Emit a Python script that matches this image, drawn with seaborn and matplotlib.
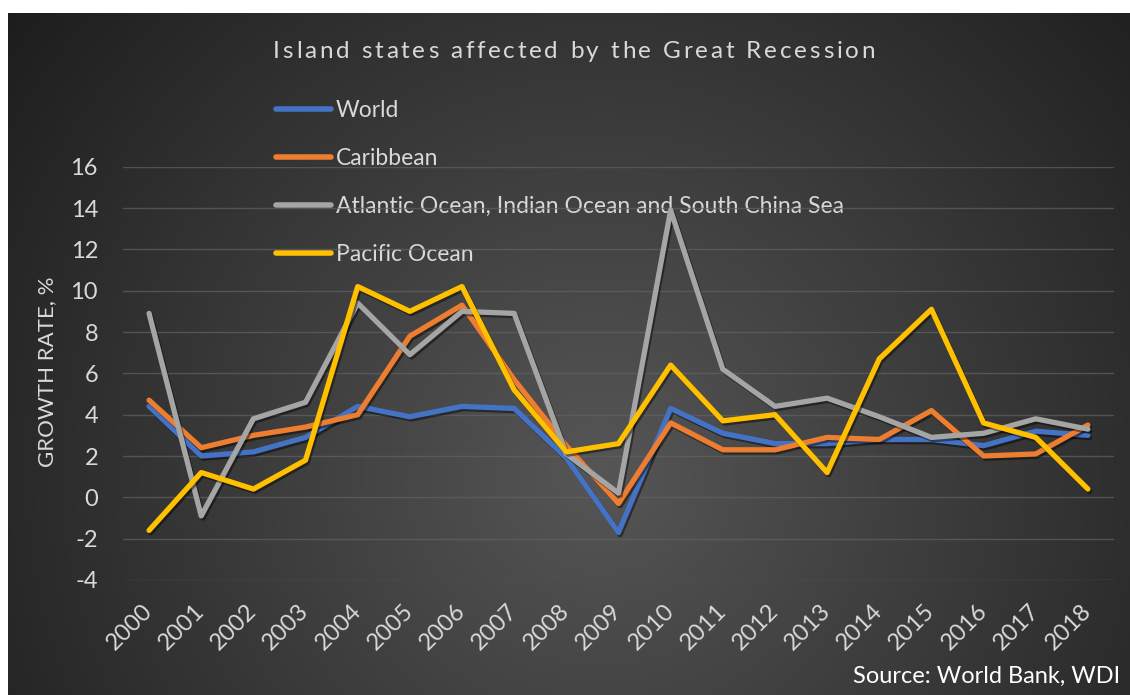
import numpy as np
import pandas as pd
import matplotlib
matplotlib.use("Agg")
import matplotlib.pyplot as plt
import matplotlib.patheffects as pe
from matplotlib.lines import Line2D
import seaborn as sns

# ---- data -------------------------------------------------------------
years = list(range(2000, 2019))
world = [4.4, 2.0, 2.2, 2.9, 4.4, 3.9, 4.4, 4.3, 1.9, -1.7, 4.3, 3.1, 2.6, 2.6, 2.8, 2.8, 2.5, 3.2, 3.0]
caribbean = [4.7, 2.4, 3.0, 3.4, 4.0, 7.8, 9.3, 5.7, 2.5, -0.3, 3.6, 2.3, 2.3, 2.9, 2.8, 4.2, 2.0, 2.1, 3.5]
atlantic = [8.9, -0.9, 3.8, 4.6, 9.4, 6.9, 9.0, 8.9, 2.1, 0.2, 13.9, 6.2, 4.4, 4.8, 3.9, 2.9, 3.1, 3.8, 3.3]
pacific = [-1.6, 1.2, 0.4, 1.8, 10.2, 9.0, 10.2, 5.2, 2.2, 2.6, 6.4, 3.7, 4.0, 1.2, 6.7, 9.1, 3.6, 2.9, 0.4]

series_names = ["World", "Caribbean",
                "Atlantic Ocean, Indian Ocean and South China Sea", "Pacific Ocean"]
series_colors = ["#4472C4", "#ED7D31", "#A5A5A5", "#FFC000"]
y_ticks = [-4, -2, 0, 2, 4, 6, 8, 10, 12, 14, 16]

title_text = "Island states affected by the Great Recession"
y_label = "GROWTH RATE, %"
source_text = "Source: World Bank, WDI"

df = pd.DataFrame({
    "year": years * 4,
    "growth": world + caribbean + atlantic + pacific,
    "region": sum([[n] * len(years) for n in series_names], []),
})

# ---- style ------------------------------------------------------------
sns.set_theme(style="white")
FONT = ["Lato", "DejaVu Sans"]
plt.rcParams["font.family"] = FONT
TXT = "#D9D9D9"

W, H, DPI = 1130, 695, 100
fig = plt.figure(figsize=(W / DPI, H / DPI), dpi=DPI, facecolor="white")

# dark radial-gradient panel
bg = fig.add_axes([8 / W, 0, 1 - 8 / W, 1 - 13 / H], zorder=0)
bw, bh = W - 8, H - 13
yy, xx = np.mgrid[0:bh, 0:bw]
cx, cy = 600 - 8, 470 - 13
r = np.hypot(xx - cx, yy - cy)
rmax = np.hypot(cx, cy) * 1.02
v = 86 - (86 - 28) * np.clip(r / rmax, 0, 1)
img = np.dstack([v, v, v]) / 255.0
bg.imshow(img, aspect="auto", interpolation="nearest")
bg.set_axis_off()

# main plot area
left, right = 123 / W, 1114 / W
bottom, top = 1 - 580 / H, 1 - 166.7 / H
ax = fig.add_axes([left, bottom, right - left, top - bottom], zorder=1)
ax.set_facecolor("none")

sns.lineplot(data=df, x="year", y="growth", hue="region",
             hue_order=series_names, palette=series_colors,
             linewidth=3.8, ax=ax, legend=False, sort=False)

shadow = [pe.SimpleLineShadow(offset=(1.2, -1.6), shadow_color="black", alpha=0.45),
          pe.Normal()]
for ln in ax.get_lines():
    ln.set_solid_joinstyle("round")
    ln.set_solid_capstyle("round")
    ln.set_path_effects(shadow)

ax.set_xlim(1999.5, 2018.5)
ax.set_ylim(-4, 16)
ax.set_yticks(y_ticks)
ax.set_yticklabels([str(t) for t in y_ticks])
ax.set_xticks(years)
ax.set_xticklabels([str(y) for y in years], rotation=45, ha="right",
                   va="center", rotation_mode="anchor")
ax.tick_params(axis="y", length=0, pad=18, labelsize=17, labelcolor=TXT)
ax.tick_params(axis="x", length=0, pad=20, labelsize=17, labelcolor=TXT)
ax.grid(axis="y", color="#626262", linewidth=1.0, alpha=0.7)
ax.grid(axis="x", visible=False)
ax.set_axisbelow(True)
for s in ax.spines.values():
    s.set_visible(False)
ax.set_xlabel("")
ax.set_ylabel("")

# y-axis label
fig.text(47 / W, 1 - 372 / H, y_label, rotation=90, ha="center", va="center",
         color=TXT, fontsize=16)

# legend, drawn beneath the data lines
handles = [Line2D([], [], color=c, linewidth=4.0, solid_capstyle="round")
           for c in series_colors]
leg = fig.legend(handles, series_names, loc="upper left",
                 bbox_to_anchor=(276 / W, 1 - 100 / H), bbox_transform=fig.transFigure,
                 frameon=False, fontsize=16.5, handlelength=2.4, handletextpad=0.2,
                 labelspacing=1.18, borderpad=0, borderaxespad=0)
for t in leg.get_texts():
    t.set_color(TXT)
leg.set_zorder(0.5)

# letter-spaced title
renderer = fig.canvas.get_renderer()
title_size = 17.5


def text_w(s):
    probe = fig.text(0, 0, s + "I", fontsize=title_size)
    w = probe.get_window_extent(renderer).width
    probe.remove()
    return w


base = text_w("")
offsets = [text_w(title_text[:i]) - base for i in range(len(title_text))]
natural = text_w(title_text) - base
target_w = 602
gap = (target_w - natural) / (len(title_text) - 1)
x0 = 574 - target_w / 2
for i, ch in enumerate(title_text):
    if ch == " ":
        continue
    fig.text((x0 + offsets[i] + gap * i) / W, 1 - 51 / H, ch, ha="left",
             va="center", color=TXT, fontsize=title_size)

# source note
fig.text(1120 / W, 12 / H, source_text, ha="right", va="baseline",
         color="white", fontsize=17)

fig.savefig("out.png", dpi=DPI, facecolor="white")
